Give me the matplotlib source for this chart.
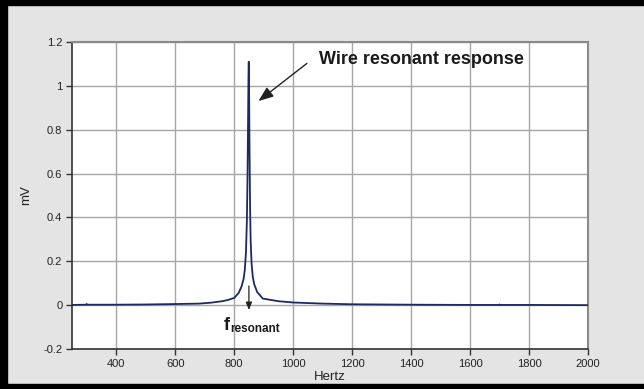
import matplotlib
matplotlib.use("Agg")
import matplotlib.pyplot as plt
from matplotlib.patches import Rectangle

plt.rcParams['font.family'] = ['Liberation Sans', 'DejaVu Sans']

hertz = [250, 298, 300, 302, 400, 500, 600, 680, 720, 760, 780, 800, 815, 825,
         832, 836, 840, 843, 845, 847, 848.5, 849.5, 850.5, 852, 854, 856, 859,
         863, 868, 878, 897, 950, 1000, 1100, 1200, 1400, 1600, 1698, 1700,
         1702, 1800, 2000]
mv = [0.001, 0.002, 0.005, 0.002, 0.002, 0.003, 0.005, 0.007, 0.011, 0.018,
      0.024, 0.033, 0.055, 0.085, 0.12, 0.16, 0.24, 0.38, 0.56, 0.82, 1.04,
      1.11, 1.0, 0.72, 0.44, 0.29, 0.19, 0.13, 0.095, 0.06, 0.03, 0.018,
      0.012, 0.007, 0.004, 0.002, 0.001, 0.001, 0.003, 0.001, 0.001, 0.0]

xticks = [400, 600, 800, 1000, 1200, 1400, 1600, 1800, 2000]
yticks = [-0.2, 0, 0.2, 0.4, 0.6, 0.8, 1, 1.2]
ylabels = ['-0.2', '0', '0.2', '0.4', '0.6', '0.8', '1', '1.2']

W, H = 644, 389
fig = plt.figure(figsize=(W / 100, H / 100), dpi=100)
fig.patch.set_facecolor('#e3e4e3')

# black frame on top, left and bottom
for x0, y0, w, h in [(0, 0, 7, H), (0, H - 5, W, 5), (0, 0, W, 5)]:
    fig.patches.append(Rectangle((x0 / W, y0 / H), w / W, h / H,
                                 transform=fig.transFigure, color='black',
                                 zorder=0))

ax = fig.add_axes([72 / W, 1 - 349 / H, (588 - 72) / W, (349 - 42) / H])
ax.set_facecolor('white')

ax.plot(hertz, mv, color='#1c2a5e', lw=1.3, zorder=3)

ax.set_xlim(250, 2000)
ax.set_ylim(-0.2, 1.2)
ax.set_xticks(xticks)
ax.set_xticklabels([str(t) for t in xticks])
ax.set_yticks(yticks)
ax.set_yticklabels(ylabels)
ax.grid(True, color='#a6a6a6', lw=1)
ax.set_axisbelow(True)
ax.tick_params(direction='out', length=4, width=1, color='#333333',
               labelsize=8, labelcolor='#222222', pad=3)

for s in ['left', 'bottom']:
    ax.spines[s].set_color('#333333')
    ax.spines[s].set_linewidth(1.2)
for s in ['top', 'right']:
    ax.spines[s].set_color('#8a8a8a')
    ax.spines[s].set_linewidth(1.5)

ax.set_xlabel('Hertz', fontsize=9.5, color='#222222', labelpad=2)
ax.set_ylabel('mV', fontsize=9.5, color='#222222', labelpad=8)

# callouts
ax.annotate('', xy=(875, 0.923), xytext=(1054, 1.11),
            arrowprops=dict(arrowstyle='-|>,head_length=0.9,head_width=0.35',
                            color='#222222', lw=1))
ax.text(1088, 1.10, 'Wire resonant response', fontsize=13, fontweight='bold',
        color='#1a1a1a', va='baseline', ha='left')

ax.annotate('', xy=(850, -0.035), xytext=(850, 0.10),
            arrowprops=dict(arrowstyle='-|>,head_length=0.45,head_width=0.18',
                            color='#222222', lw=0.9))
ax.text(766, -0.112, 'f', fontsize=13, fontweight='bold', color='#1a1a1a',
        va='baseline', ha='left')
ax.text(786, -0.122, 'resonant', fontsize=8.5, fontweight='bold',
        color='#1a1a1a', va='baseline', ha='left')

fig.savefig('out.png', dpi=100, facecolor=fig.get_facecolor())
